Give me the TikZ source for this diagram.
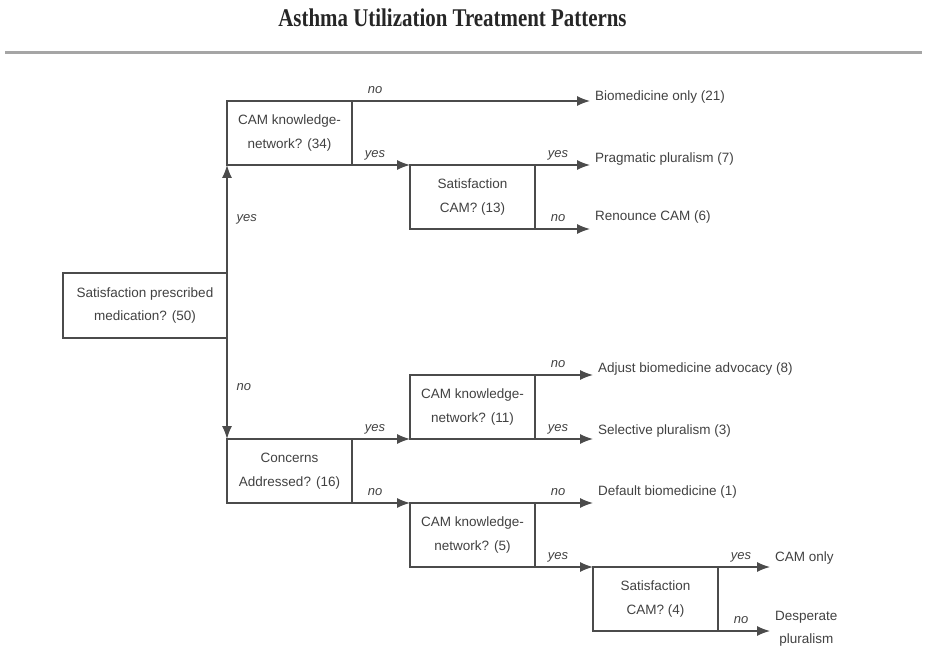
\documentclass[tikz,border=0pt]{standalone}
\usepackage{fontspec}
\setmainfont{Liberation Serif}
\setsansfont{Liberation Sans}
\usepackage{graphicx}
\usetikzlibrary{positioning, arrows.meta, calc}

\begin{document}
\begin{tikzpicture}[x=1pt, y=-1pt]
                    \definecolor{ln}{RGB}{75, 75, 75} \definecolor{txt}{RGB}{65, 65, 65} \definecolor{rulegray}{RGB}{165, 165, 165}
                    \tikzset{
                        box/.style={draw=ln, line width=1.3pt, outer sep=0pt, inner sep=0pt, minimum width=125pt, minimum height=64pt, align=center, text=txt, font=\sffamily\fontsize{13.5}{23.5}\selectfont},
                        outcome/.style={anchor=west, inner xsep=5pt, inner ysep=0pt, align=center, text=txt, font=\sffamily\fontsize{13.5}{23}\selectfont},
                        arr/.style={-{Latex[length=13pt, width=10pt]}, draw=ln, line width=1.3pt},
                        lbl/.style={text=txt, inner sep=2pt, text height=7pt, text depth=2.5pt, font=\sffamily\itshape\fontsize{13}{14}\selectfont},
                        hlbl/.style={lbl, pos=0, anchor=south, xshift=23pt, yshift=2pt}
                    }
                    \useasboundingbox (0,0) rectangle (926,652);

                    \node[font=\bfseries\fontsize{25.5}{28}\selectfont, text=black!85, anchor=base] (title) at (452.5,27) {\scalebox{0.82}[1]{Asthma Utilization Treatment Patterns}};
                    \draw[rulegray, line width=3pt] (5,53) -- (922,53);

                    % question boxes
                    \node[box, anchor=north east, minimum width=164pt, minimum height=65pt] (med50) at (227,273) {Satisfaction prescribed\\medication? (50)};
                    \node[box, anchor=north west] (cam34) at (227,101) {CAM knowledge-\\network? (34)};
                    \node[box, anchor=north west] (sat13) at (410,165) {Satisfaction\\CAM? (13)};
                    \node[box, anchor=north west] (conc16) at (227,439) {Concerns\\Addressed? (16)};
                    \node[box, anchor=north west] (cam11) at (410,375) {CAM knowledge-\\network? (11)};
                    \node[box, anchor=north west] (cam5) at (410,503) {CAM knowledge-\\network? (5)};
                    \node[box, anchor=north west] (sat4) at (593,567) {Satisfaction\\CAM? (4)};

                    % patterns
                    \node[outcome] (bio21) at (590,97) {Biomedicine only (21)};
                    \node[outcome] (prag7) at (590,159) {Pragmatic pluralism (7)};
                    \node[outcome] (ren6) at (590,217) {Renounce CAM (6)};
                    \node[outcome] (adj8) at (593,369) {Adjust biomedicine advocacy (8)};
                    \node[outcome] (sel3) at (593,431) {Selective pluralism (3)};
                    \node[outcome] (def1) at (593,492) {Default biomedicine (1)};
                    \node[outcome] (camonly) at (770,558) {CAM only};
                    \node[outcome] (desp) at (770,629) {Desperate\\pluralism};

                    \draw[arr] (med50.north east) -- node[lbl, midway, right=7pt] {yes} (cam34.south west);
                    \draw[arr] (med50.south east) -- node[lbl, midway, right=7pt] {no} (conc16.north west);
                    \draw[arr] (cam34.north east) -- node[hlbl] {no} (cam34.north east -| bio21.west);
                    \draw[arr] (cam34.south east) -- node[hlbl] {yes} (sat13.north west);
                    \draw[arr] (sat13.north east) -- node[hlbl] {yes} (sat13.north east -| prag7.west);
                    \draw[arr] (sat13.south east) -- node[hlbl] {no} (sat13.south east -| ren6.west);
                    \draw[arr] (conc16.north east) -- node[hlbl] {yes} (cam11.south west);
                    \draw[arr] (conc16.south east) -- node[hlbl] {no} (cam5.north west);
                    \draw[arr] (cam11.north east) -- node[hlbl] {no} (cam11.north east -| adj8.west);
                    \draw[arr] (cam11.south east) -- node[hlbl] {yes} (cam11.south east -| sel3.west);
                    \draw[arr] (cam5.north east) -- node[hlbl] {no} (cam5.north east -| def1.west);
                    \draw[arr] (cam5.south east) -- node[hlbl] {yes} (sat4.north west);
                    \draw[arr] (sat4.north east) -- node[hlbl] {yes} (sat4.north east -| camonly.west);
                    \draw[arr] (sat4.south east) -- node[hlbl] {no} (sat4.south east -| desp.west);
                \end{tikzpicture}
\end{document}
